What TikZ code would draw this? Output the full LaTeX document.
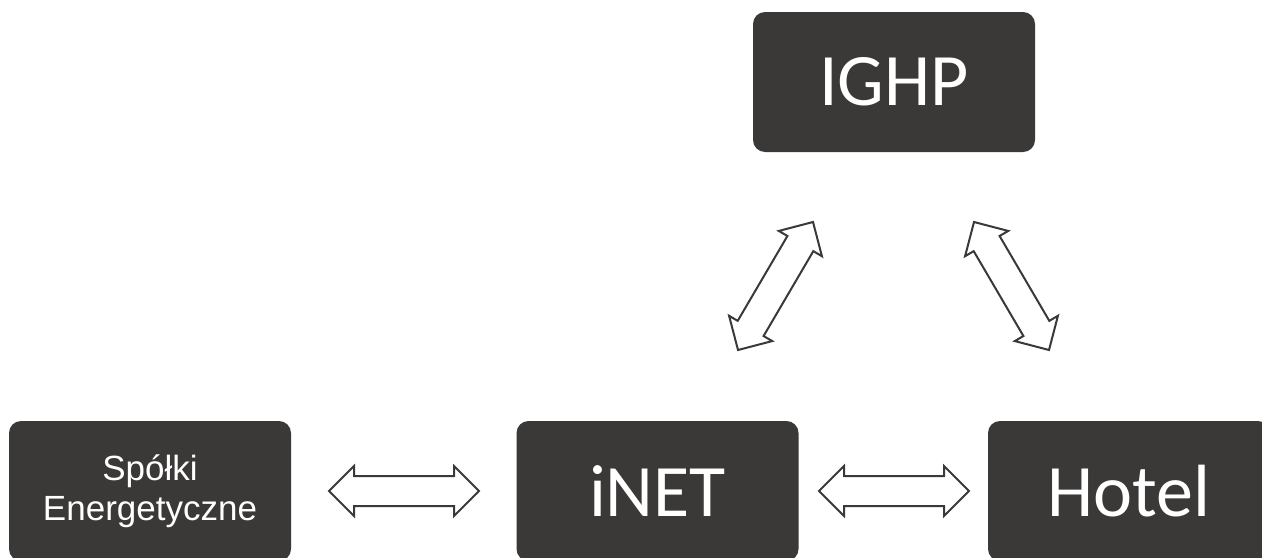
\documentclass[tikz,border=0pt]{standalone}
\usepackage{fontspec}
\setmainfont{Carlito}
\newfontfamily\arialfont{Liberation Sans}
\usetikzlibrary{calc}

% block arrow with two heads between two named points
\newcommand{\dblarrow}[2]{%
  \draw[arrowline] (#1)
    -- ($(#1)!12.5pt!(#2)!12.5pt!90:(#2)$)
    -- ($(#1)!12.5pt!(#2)!7.5pt!90:(#2)$)
    -- ($(#2)!12.5pt!(#1)!7.5pt!-90:(#1)$)
    -- ($(#2)!12.5pt!(#1)!12.5pt!-90:(#1)$)
    -- (#2)
    -- ($(#2)!12.5pt!(#1)!12.5pt!90:(#1)$)
    -- ($(#2)!12.5pt!(#1)!7.5pt!90:(#1)$)
    -- ($(#1)!12.5pt!(#2)!7.5pt!-90:(#2)$)
    -- ($(#1)!12.5pt!(#2)!12.5pt!-90:(#2)$)
    -- cycle;}

\begin{document}
\begin{tikzpicture}[x=0.5pt,y=-0.5pt,
    box/.style={fill=boxgray, text=white, rounded corners=6pt,
      minimum width=141pt, minimum height=70pt, inner sep=0pt,
      align=center, font=\fontsize{37}{40}\selectfont},
    arrowline/.style={draw=boxgray, fill=white, line width=1pt, line join=miter}]

    \definecolor{boxgray}{HTML}{3B3937}

    \useasboundingbox (0,0) rectangle (1262,557);

    \node[box] (ighp) at (894,82) {IGHP};
    \node[box, font=\arialfont\fontsize{17.5}{20}\selectfont] (spolki) at (150,491) {Spółki\\Energetyczne};
    \node[box] (inet) at (657.5,491) {iNET};
    \node[box] (hotel) at (1129,491) {Hotel};

    \coordinate (si1) at (329,491);
    \coordinate (si2) at (479,491);
    \coordinate (ih1) at (819,491);
    \coordinate (ih2) at (969,491);
    \coordinate (ii1) at (738,350);
    \coordinate (ii2) at (813,222);
    \coordinate (hi1) at (1049,350);
    \coordinate (hi2) at (974,222);

    \dblarrow{si1}{si2}
    \dblarrow{ih1}{ih2}
    \dblarrow{ii1}{ii2}
    \dblarrow{hi1}{hi2}

\end{tikzpicture}
\end{document}
